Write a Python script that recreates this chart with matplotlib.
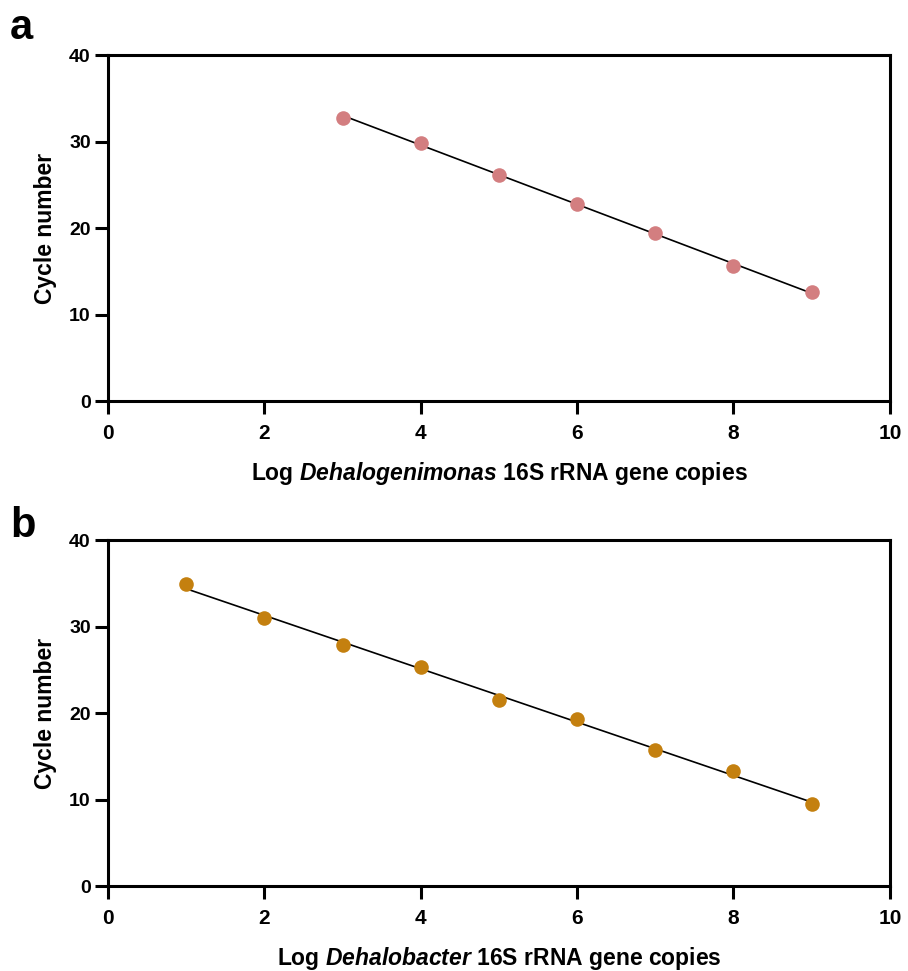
import matplotlib
matplotlib.use("Agg")
import matplotlib.pyplot as plt
import numpy as np

plt.rcParams['font.family'] = ['Liberation Sans', 'DejaVu Sans']
plt.rcParams['font.weight'] = 'bold'
plt.rcParams['mathtext.fontset'] = 'custom'
plt.rcParams['mathtext.it'] = 'Liberation Sans:italic:bold'
plt.rcParams['mathtext.rm'] = 'Liberation Sans:bold'

# Panel a: Dehalogenimonas standard curve
log_copies_a = [3, 4, 5, 6, 7, 8, 9]
cycles_a = [32.8, 29.9, 26.2, 22.8, 19.4, 15.6, 12.6]

# Panel b: Dehalobacter standard curve
log_copies_b = [1, 2, 3, 4, 5, 6, 7, 8, 9]
cycles_b = [34.9, 31.0, 27.9, 25.4, 21.5, 19.3, 15.7, 13.3, 9.5]

color_a = '#D37E80'
color_b = '#C4800F'

fig = plt.figure(figsize=(9.08, 9.71), dpi=100)
ax_a = fig.add_axes([0.119, 0.587, 0.861, 0.356])
ax_b = fig.add_axes([0.119, 0.0875, 0.861, 0.356])

panels = [
    (ax_a, log_copies_a, cycles_a, color_a, 'Dehalogenimonas', 'a', 1 - 39 / 971),
    (ax_b, log_copies_b, cycles_b, color_b, 'Dehalobacter', 'b', 1 - 537 / 971),
]

for ax, x, y, col, genus, letter, ly in panels:
    x = np.array(x)
    y = np.array(y)
    # linear standard curve through the points
    slope, intercept = np.polyfit(x, y, 1)
    xs = np.array([x.min(), x.max()])
    ax.plot(xs, slope * xs + intercept, color='black', lw=1.2, zorder=2)
    ax.plot(x, y, 'o', color=col, markersize=10.5, markeredgewidth=0, zorder=3)

    ax.set_xlim(0, 10)
    ax.set_ylim(0, 40)
    ax.set_xticks([0, 2, 4, 6, 8, 10])
    ax.set_yticks([0, 10, 20, 30, 40])
    for s in ax.spines.values():
        s.set_linewidth(2.2)
    ax.tick_params(width=2.2, length=9.5)
    ax.tick_params(axis='x', labelsize=15, pad=7)
    ax.tick_params(axis='y', labelsize=14, pad=3)
    for lab in ax.get_xticklabels() + ax.get_yticklabels():
        lab.set_fontweight('bold')

    ax.set_ylabel('Cycle number', fontsize=16.5, fontweight='bold', labelpad=9)
    ax.set_xlabel('Log $\\mathit{' + genus + '}$ 16S rRNA gene copies',
                  fontsize=16.5, fontweight='bold', labelpad=12)

    fig.text(0.011, ly, letter, fontsize=30, fontweight='bold',
             va='baseline', ha='left')

fig.savefig('out.png', dpi=100)
